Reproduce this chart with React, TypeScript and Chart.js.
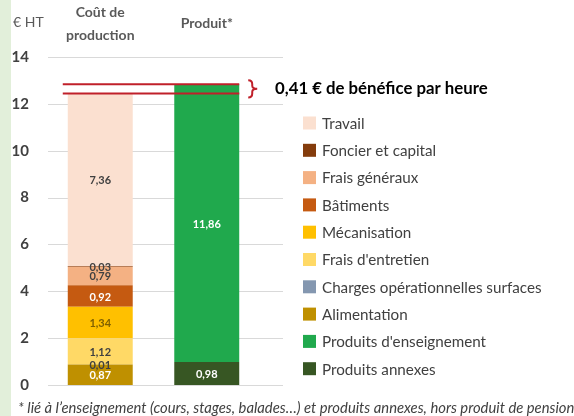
import React, { useEffect, useRef } from 'react';
import { Chart, registerables } from 'chart.js';

Chart.register(...registerables);

// ---------- DATA ----------
const categories: (string | string[])[] = [['Coût de', 'production'], 'Produit*'];
const alimentation = [0.87, null];
const chargesOperationnelles = [0.01, null];
const fraisEntretien = [1.12, null];
const mecanisation = [1.34, null];
const batiments = [0.92, null];
const fraisGeneraux = [0.79, null];
const foncierCapital = [0.03, null];
const travail = [7.36, null];
const produitsAnnexes = [null, 0.98];
const produitsEnseignement = [null, 11.86];
const yTicks = [0, 2, 4, 6, 8, 10, 12, 14];
const unitLabel = '€ HT';
const profitLabel = '0,41 € de bénéfice par heure';
const footnote = '* lié à l’enseignement (cours, stages, balades…) et produits annexes, hors produit de pension';
const legendOrder = [
  'Travail',
  'Foncier et capital',
  'Frais généraux',
  'Bâtiments',
  'Mécanisation',
  "Frais d'entretien",
  'Charges opérationnelles surfaces',
  'Alimentation',
  "Produits d'enseignement",
  'Produits annexes',
];

const FONT = 'Lato, "Open Sans", sans-serif';

const seriesDefs = [
  { label: 'Alimentation', data: alimentation, color: '#BF9000', text: '#FFFFFF' },
  { label: 'Charges opérationnelles surfaces', data: chargesOperationnelles, color: '#8497B0', text: '#404040' },
  { label: "Frais d'entretien", data: fraisEntretien, color: '#FFD966', text: '#404040' },
  { label: 'Mécanisation', data: mecanisation, color: '#FFC000', text: '#7F6000' },
  { label: 'Bâtiments', data: batiments, color: '#C55A11', text: '#FFFFFF' },
  { label: 'Frais généraux', data: fraisGeneraux, color: '#F4B183', text: '#404040' },
  { label: 'Foncier et capital', data: foncierCapital, color: '#843C0C', text: '#404040' },
  { label: 'Travail', data: travail, color: '#FBE0D0', text: '#404040' },
  { label: 'Produits annexes', data: produitsAnnexes, color: '#375623', text: '#FFFFFF' },
  { label: "Produits d'enseignement", data: produitsEnseignement, color: '#20A94D', text: '#FFFFFF' },
];

const fmt = (v: number) => v.toFixed(2).replace('.', ',');

const decorPlugin = {
  id: 'decor',
  beforeDraw(chart: any) {
    const ctx = chart.ctx;
    ctx.save();
    ctx.fillStyle = '#FFFFFF';
    ctx.fillRect(0, 0, chart.width, chart.height);
    ctx.fillStyle = '#E2EFDA';
    ctx.fillRect(0, 0, 11, chart.height);
    ctx.restore();
  },
  beforeDatasetsDraw(chart: any) {
    const ctx = chart.ctx;
    const y = chart.scales.y;
    const area = chart.chartArea;
    ctx.save();
    ctx.strokeStyle = '#D9D9D9';
    ctx.lineWidth = 1;
    y.ticks.forEach((t: any) => {
      const py = Math.round(y.getPixelForValue(t.value)) + 0.5;
      ctx.beginPath();
      ctx.moveTo(area.left + 1, py);
      ctx.lineTo(283, py);
      ctx.stroke();
    });
    ctx.restore();
  },
  afterDatasetsDraw(chart: any) {
    const ctx = chart.ctx;
    // data labels
    ctx.save();
    ctx.font = `bold 11px ${FONT}`;
    ctx.textAlign = 'center';
    ctx.textBaseline = 'middle';
    chart.data.datasets.forEach((ds: any, di: number) => {
      const meta = chart.getDatasetMeta(di);
      meta.data.forEach((el: any, i: number) => {
        const v = ds.data[i];
        if (v == null) return;
        ctx.fillStyle = seriesDefs[di].text;
        ctx.fillText(fmt(v), el.x, (el.y + el.base) / 2 + 1);
      });
    });
    ctx.restore();

    // profit lines
    const y = chart.scales.y;
    const costTotal = seriesDefs.reduce((s, d) => s + (d.data[0] ?? 0), 0);
    const productTotal = seriesDefs.reduce((s, d) => s + (d.data[1] ?? 0), 0);
    const el0 = chart.getDatasetMeta(0).data[0];
    const el1 = chart.getDatasetMeta(seriesDefs.length - 1).data[1];
    const x0 = el0.x - el0.width / 2 - 5;
    const x1 = el1.x + el1.width / 2;
    const yTop = y.getPixelForValue(productTotal);
    const yBot = y.getPixelForValue(costTotal);
    ctx.save();
    ctx.strokeStyle = '#C0202A';
    ctx.lineWidth = 2;
    [yTop, yBot].forEach((py) => {
      ctx.beginPath();
      ctx.moveTo(x0, py);
      ctx.lineTo(x1, py);
      ctx.stroke();
    });
    // bracket
    const bx = x1 + 9;
    const top = yTop - 4;
    const bot = yBot + 4;
    const mid = (top + bot) / 2;
    ctx.beginPath();
    ctx.moveTo(bx, top);
    ctx.quadraticCurveTo(bx + 4, top, bx + 4, top + 4);
    ctx.lineTo(bx + 4, mid - 3);
    ctx.quadraticCurveTo(bx + 4, mid, bx + 9, mid);
    ctx.quadraticCurveTo(bx + 4, mid, bx + 4, mid + 3);
    ctx.lineTo(bx + 4, bot - 4);
    ctx.quadraticCurveTo(bx + 4, bot, bx, bot);
    ctx.stroke();
    ctx.fillStyle = '#000000';
    ctx.font = `bold 16.8px ${FONT}`;
    ctx.textAlign = 'left';
    ctx.textBaseline = 'middle';
    ctx.fillText(profitLabel, 275, mid);
    ctx.restore();
  },
  afterDraw(chart: any) {
    const ctx = chart.ctx;
    ctx.save();
    // unit label
    ctx.fillStyle = '#595959';
    ctx.font = `14px ${FONT}`;
    ctx.textAlign = 'left';
    ctx.textBaseline = 'middle';
    ctx.fillText(unitLabel, 13, 22);

    // legend
    ctx.font = `15.2px ${FONT}`;
    legendOrder.forEach((name, i) => {
      const d = seriesDefs.find((s) => s.label === name)!;
      const cy = 123 + i * 27.3;
      ctx.fillStyle = d.color;
      ctx.fillRect(303, cy - 6.5, 13, 13);
      ctx.fillStyle = '#404040';
      ctx.fillText(name, 322, cy + 1);
    });

    // footnote
    ctx.font = `italic 14.8px ${FONT}`;
    ctx.fillStyle = '#404040';
    ctx.fillText(footnote, 18, 408);
    ctx.restore();
  },
};

export default function App() {
  const ref = useRef<HTMLCanvasElement | null>(null);
  useEffect(() => {
    document.body.style.margin = '0';
    document.body.style.overflow = 'hidden';
    const canvas = ref.current!;
    const chart = new Chart(canvas, {
      type: 'bar',
      data: {
        labels: categories as any,
        datasets: seriesDefs.map((d) => ({
          label: d.label,
          data: d.data as any,
          backgroundColor: d.color,
          borderWidth: 0,
          barPercentage: 0.61,
          categoryPercentage: 1,
          stack: 's',
        })),
      },
      options: {
        responsive: false,
        animation: false,
        devicePixelRatio: 1,
        layout: { padding: { left: 0, right: 314, top: 0, bottom: 31 } },
        plugins: {
          legend: { display: false },
          tooltip: { enabled: false },
        },
        scales: {
          x: {
            position: 'top',
            stacked: true,
            grid: { display: false },
            border: { display: false },
            ticks: {
              color: '#595959',
              font: { family: FONT, size: 14, weight: 'bold', lineHeight: '23px' } as any,
              crossAlign: 'center',
              padding: 14,
              maxRotation: 0,
              autoSkip: false,
            },
            afterFit: (s: any) => {
              s.height = 57;
            },
          },
          y: {
            stacked: true,
            min: 0,
            max: 14,
            grid: { display: false },
            border: { display: false },
            ticks: {
              color: '#404040',
              font: { family: FONT, size: 15, weight: 'bold' },
              padding: 10,
            },
            afterBuildTicks: (s: any) => {
              s.ticks = yTicks.map((v) => ({ value: v }));
            },
            afterFit: (s: any) => {
              s.width = 47;
            },
          },
        },
      },
      plugins: [decorPlugin],
    });
    return () => chart.destroy();
  }, []);
  return <canvas ref={ref} width={574} height={416} style={{ display: 'block' }} />;
}
